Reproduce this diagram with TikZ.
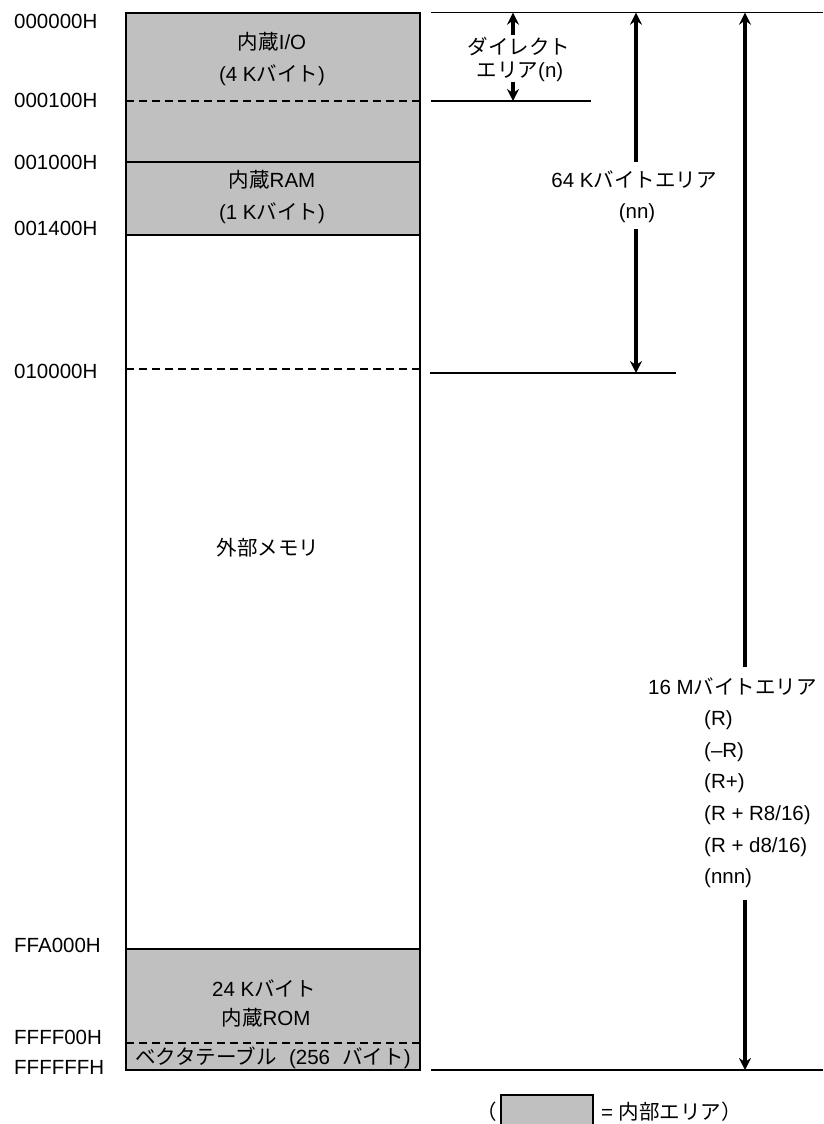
\documentclass[tikz,border=0pt]{standalone}
\usepackage{fontspec}
\setmainfont{Liberation Sans}
\newfontfamily\jp{Noto Sans CJK JP}
\usetikzlibrary{arrows.meta}
\newcommand\J[1]{{\jp #1}}
\definecolor{memgray}{HTML}{C0C0C0}
\begin{document}
\begin{tikzpicture}[x=1pt,y=-1pt,
  every node/.style={font=\fontsize{20.5}{24}\selectfont, inner sep=0pt},
  boxline/.style={line width=2.2pt},
  dashline/.style={line width=2.5pt, dash pattern=on 8pt off 5pt},
  thinline/.style={line width=1.4pt},
  arr/.style={line width=3.2pt, -{Stealth[length=12pt,width=12pt,inset=4pt]}},
  addr/.style={anchor=west},
  inarea/.style={fill=memgray}
  ]
\useasboundingbox (0,0) rectangle (823,1124);
\fill[white] (0,0) rectangle (823,1124);

% memory column
\fill[inarea] (126,12.7) rectangle (420,235);
\fill[inarea] (126,949) rectangle (420,1070);
\draw[dashline] (126,101) -- (420,101);
\draw[dashline] (126,369) -- (420,369);
\draw[dashline] (126,1043) -- (420,1043);
\draw[boxline] (126,162) -- (420,162);
\draw[boxline] (126,235) -- (420,235);
\draw[boxline] (126,949) -- (420,949);
\draw[boxline] (126,12.7) rectangle (420,1070);

% addresses
\node[addr] (a0) at (14,21) {000000H};
\node[addr] (a1) at (14,100) {000100H};
\node[addr] (a2) at (14,162) {001000H};
\node[addr] (a3) at (14,228) {001400H};
\node[addr] (a4) at (14,371) {010000H};
\node[addr] (a5) at (14,945) {FFA000H};
\node[addr] (a6) at (14,1037) {FFFF00H};
\node[addr] (a7) at (14,1067) {FFFFFFH};

% area texts
\node (io1) at (272,42) {\J{内蔵}I/O};
\node (io2) at (272,75) {(4 K\J{バイト})};
\node (ram1) at (272,180) {\J{内蔵}RAM};
\node (ram2) at (272,213) {(1 K\J{バイト})};
\node (ext) at (268,548) {\J{外部メモリ}};
\node (rom1) at (264,988) {24 K\J{バイト}};
\node (rom2) at (266,1018) {\J{内蔵}ROM};
\node (vec) at (273,1058) {\J{ベクタテーブル}\hspace{0.6em}(256\hspace{0.6em}\J{バイト})};

% right-hand reference lines
\draw[thinline] (431,12.7) -- (823,12.7);
\draw[thinline] (431,101) -- (591,101);
\draw[thinline] (430,373) -- (676,373);
\draw[thinline] (431,1070) -- (823,1070);

% direct area
\node (dir1) at (519,47) {\J{ダイレクト}};
\node (dir2) at (520,72) {\J{エリア}(n)};
\coordinate (d1s) at (513,35);
\coordinate (d1e) at (513,12.7);
\coordinate (d2s) at (513,82);
\coordinate (d2e) at (513,101);
\draw[arr] (d1s) -- (d1e);
\draw[arr] (d2s) -- (d2e);

% 64K area
\node (k1) at (634,180) {64 K\J{バイトエリア}};
\node (k2) at (637,213) {(nn)};
\coordinate (k1s) at (636,162);
\coordinate (k1e) at (636,12.7);
\coordinate (k2s) at (636,229);
\coordinate (k2e) at (636,373);
\draw[arr] (k1s) -- (k1e);
\draw[arr] (k2s) -- (k2e);

% 16M area
\node[anchor=west] (m0) at (648,687) {16 M\J{バイトエリア}};
\node[anchor=west] (m1) at (704,720) {(R)};
\node[anchor=west] (m2) at (704,752) {(–R)};
\node[anchor=west] (m3) at (704,783) {(R+)};
\node[anchor=west] (m4) at (704,815) {(R + R8/16)};
\node[anchor=west] (m5) at (704,847) {(R + d8/16)};
\node[anchor=west] (m6) at (704,878) {(nnn)};
\coordinate (m1s) at (745,667);
\coordinate (m1e) at (745,12.7);
\coordinate (m2s) at (745,900);
\coordinate (m2e) at (745,1070);
\draw[arr] (m1s) -- (m1e);
\draw[arr] (m2s) -- (m2e);

% legend
\node[anchor=east] (lp) at (497,1112) {\J{（}};
\draw[inarea, line width=1.5pt] (501,1095) rectangle (593,1130);
\node[anchor=west] (lt) at (601,1112) {= \J{内部エリア）}};
\end{tikzpicture}
\end{document}
